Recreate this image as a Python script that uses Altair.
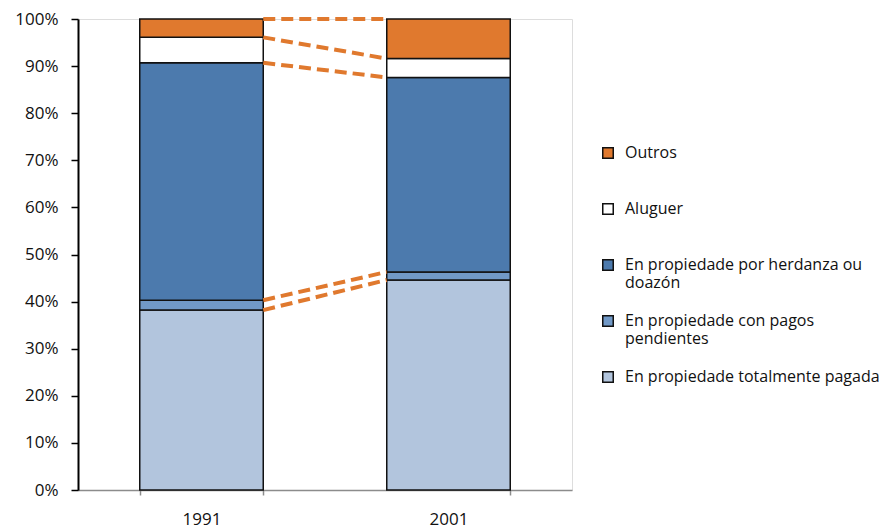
import altair as alt
import pandas as pd

# Housing tenure shares (%) by census year
years = ["1991", "2001"]
categories = [
    "En propiedade totalmente pagada",
    "En propiedade con pagos pendientes",
    "En propiedade por herdanza ou doazón",
    "Aluguer",
    "Outros",
]
share_1991 = [38.2, 2.1, 50.4, 5.4, 3.9]
share_2001 = [44.6, 1.7, 41.3, 4.0, 8.4]
colors = ["#B2C5DD", "#7199C7", "#4C7AAD", "#FFFFFF", "#E0792E"]

rows = []
for year, shares in zip(years, [share_1991, share_2001]):
    for i, (cat, val) in enumerate(zip(categories, shares)):
        rows.append({"year": year, "tenure": cat, "share": val, "order": i})
bars_df = pd.DataFrame(rows)

# Connector lines join the upper edge of every segment between the two years
def cumulative(values):
    out, total = [], 0.0
    for v in values:
        total += v
        out.append(round(total, 2))
    return out

cum_a = cumulative(share_1991)
cum_b = cumulative(share_2001)
lines_df = pd.DataFrame({
    "from_year": [years[0]] * len(cum_a),
    "to_year": [years[1]] * len(cum_b),
    "from_val": cum_a,
    "to_val": cum_b,
})

font = "Open Sans"
label_expr = (
    "datum.label == 'En propiedade por herdanza ou doazón' ? "
    "['En propiedade por herdanza ou', 'doazón'] : "
    "datum.label == 'En propiedade con pagos pendientes' ? "
    "['En propiedade con pagos', 'pendientes'] : [datum.label, '']"
)

x_scale = alt.Scale(domain=years, paddingInner=0.5, paddingOuter=0.25)
y_scale = alt.Scale(domain=[0, 100], nice=False)

bars = alt.Chart(bars_df).mark_bar(stroke="#111111", strokeWidth=1.5).encode(
    x=alt.X(
        "year:N",
        title=None,
        scale=x_scale,
        axis=alt.Axis(
            labelAngle=0, tickBand="extent", domainColor="#8C8C8C", tickColor="#8C8C8C",
            domainWidth=1.5, tickWidth=1.5, tickSize=5, labelPadding=16,
            labelFontSize=17, labelFont=font, labelColor="#111111",
        ),
    ),
    y=alt.Y(
        "share:Q",
        stack="zero",
        title=None,
        scale=y_scale,
        axis=alt.Axis(
            values=list(range(0, 101, 10)), labelExpr="datum.value + '%'",
            grid=False, domainColor="#000000", tickColor="#000000",
            domainWidth=2, tickWidth=1.5, tickSize=7, labelPadding=13,
            labelFontSize=17, labelFont=font, labelColor="#111111",
        ),
    ),
    color=alt.Color(
        "tenure:N",
        scale=alt.Scale(domain=categories[::-1], range=colors[::-1]),
        legend=alt.Legend(
            title=None, orient="none", legendX=522, legendY=126,
            symbolType="square", symbolSize=110, symbolStrokeColor="#111111",
            symbolStrokeWidth=1.5, labelFont=font, labelFontSize=16,
            labelColor="#111111", labelBaseline="middle", labelOffset=9,
            labelLimit=400, rowPadding=21, labelExpr=label_expr,
        ),
    ),
    order=alt.Order("order:Q", sort="ascending"),
)

connectors = alt.Chart(lines_df).mark_rule(
    color="#E0792E", strokeWidth=4, strokeDash=[12, 6]
).encode(
    x=alt.X("from_year:N", bandPosition=1, scale=x_scale, title=None),
    x2=alt.X2("to_year:N", bandPosition=0),
    y=alt.Y("from_val:Q", scale=y_scale, title=None),
    y2="to_val:Q",
)

chart = (
    alt.layer(bars, connectors)
    .properties(
        width=494,
        height=471,
        autosize=alt.AutoSizeParams(type="none"),
        padding={"left": 78, "top": 19, "right": 319, "bottom": 39},
    )
    .configure_axis(grid=False)
    .configure_view(strokeWidth=0, stroke="transparent")
    .configure(background="#FFFFFF")
)

chart.save("out.html", embed_options={"renderer": "svg", "actions": False})
